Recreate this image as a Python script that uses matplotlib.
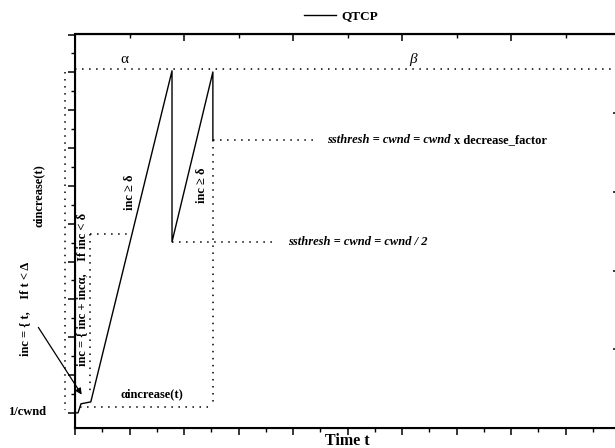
import numpy as np
import matplotlib
matplotlib.use('Agg')
import matplotlib.pyplot as plt
from matplotlib.ticker import MultipleLocator

plt.rcParams['font.family'] = ['Liberation Serif', 'DejaVu Serif']

# QTCP congestion window (schematic)
t_qtcp = [0.0, 0.055, 0.11, 0.29, 1.78, 1.78, 2.53, 2.53]
cwnd_qtcp = [0.0, 0.0, 0.24, 0.29, 9.04, 4.52, 9.01, 7.21]

# reference dotted guides: (x list, y list)
guide_top = ([0.0, 10.0], [9.1, 9.1])
guide_decrease = ([2.53, 4.46], [7.21, 7.21])
guide_half = ([1.78, 3.71], [4.52, 4.52])
guide_alpha_v = ([2.53, 2.53], [7.21, 0.16])
guide_alpha_h = ([0.09, 2.53], [0.16, 0.16])
guide_box_v = ([0.27, 0.27], [4.73, 0.55])
guide_box_h = ([0.27, 1.0], [4.73, 4.73])
guide_left = ([-0.18, -0.18], [9.0, 0.08])

fig = plt.figure(figsize=(6.15, 4.48), dpi=100)
ax = fig.add_axes([75 / 615, 20 / 448, 545 / 615, 393.5 / 448])

ax.plot(t_qtcp, cwnd_qtcp, color='black', lw=1.0, label='QTCP')

dot = dict(color='black', lw=1.1, linestyle=(0, (1, 3.6)))
for gx, gy in [guide_top, guide_decrease, guide_half, guide_alpha_v,
               guide_alpha_h, guide_box_v, guide_box_h]:
    ax.plot(gx, gy, **dot)
ax.plot(*guide_left, clip_on=False, **dot)

ax.set_xlim(0, 10)
ax.set_ylim(-0.4, 10)

# ticks
ax.xaxis.set_major_locator(MultipleLocator(1))
ax.xaxis.set_minor_locator(MultipleLocator(0.5))
ax.yaxis.set_major_locator(MultipleLocator(1))
ax.yaxis.set_minor_locator(MultipleLocator(0.5))
ax.tick_params(which='major', direction='out', length=5, width=1.1,
               labelbottom=False, labelleft=False)
ax.tick_params(which='minor', direction='out', length=3, width=1.0)
for s in ax.spines.values():
    s.set_linewidth(1.5)

top = ax.secondary_xaxis('top')
top.xaxis.set_major_locator(MultipleLocator(2))
top.xaxis.set_minor_locator(MultipleLocator(1))
top.tick_params(which='major', direction='in', length=5, width=1.1, labeltop=False)
top.tick_params(which='minor', direction='in', length=3, width=1.0)
top.spines['top'].set_linewidth(1.5)

right = ax.twinx()
right.set_ylim(0, 5)
right.set_yticks([1, 2, 3, 4])
right.tick_params(direction='in', length=5, width=1.1, labelright=False)

ax.set_xlabel('Time t', fontsize=11.5, fontweight='bold')
ax.xaxis.set_label_coords(0.5, -0.012)

bold = dict(fontweight='bold', fontsize=9)
ax.text(0.9, 9.33, 'α', fontsize=11, ha='center', va='center')
ax.text(6.2, 9.35, 'β', fontsize=11, style='italic', ha='center', va='center')

ax.text(-0.66, 5.75, 'αincrease(t)', rotation=90, ha='center', va='center',
        clip_on=False, **bold)
ax.text(-0.92, 2.75, 'inc = { t,    If t < Δ', rotation=90, ha='center',
        va='center', clip_on=False, **bold)
ax.text(0.13, 3.25, 'inc = { inc + incα,    If inc < δ', rotation=90,
        ha='center', va='center', **bold)
ax.text(1.01, 5.84, 'inc ≥ δ', rotation=90, ha='center', va='center', **bold)
ax.text(2.33, 6.02, 'inc ≥ δ', rotation=90, ha='center', va='center', **bold)
ax.text(-1.23, 0.03, '1/cwnd', ha='left', va='center', clip_on=False, **bold)
ax.text(1.41, 0.48, 'αincrease(t)', ha='center', va='center', **bold)

t1 = ax.text(4.62, 7.22, 'ssthresh = cwnd = cwnd', style='italic', ha='left',
             va='center', **bold)
ax.annotate('x decrease_factor', xy=(1, 0.5), xycoords=t1, xytext=(3, 0),
            textcoords='offset points', ha='left', va='center', **bold)
ax.text(3.91, 4.52, 'ssthresh = cwnd = cwnd / 2', style='italic', ha='left',
        va='center', **bold)

ax.annotate('', xy=(0.15, 0.42), xytext=(-0.70, 2.32),
            arrowprops=dict(arrowstyle='-|>', color='black', lw=0.9,
                            mutation_scale=9),
            annotation_clip=False)

fig.legend(loc='center', bbox_to_anchor=(0.555, 0.964), frameon=False,
           prop=dict(family='Liberation Serif', weight='bold', size=9.5),
           handlelength=2.4, handletextpad=0.4)

fig.savefig('out.png', dpi=100)
